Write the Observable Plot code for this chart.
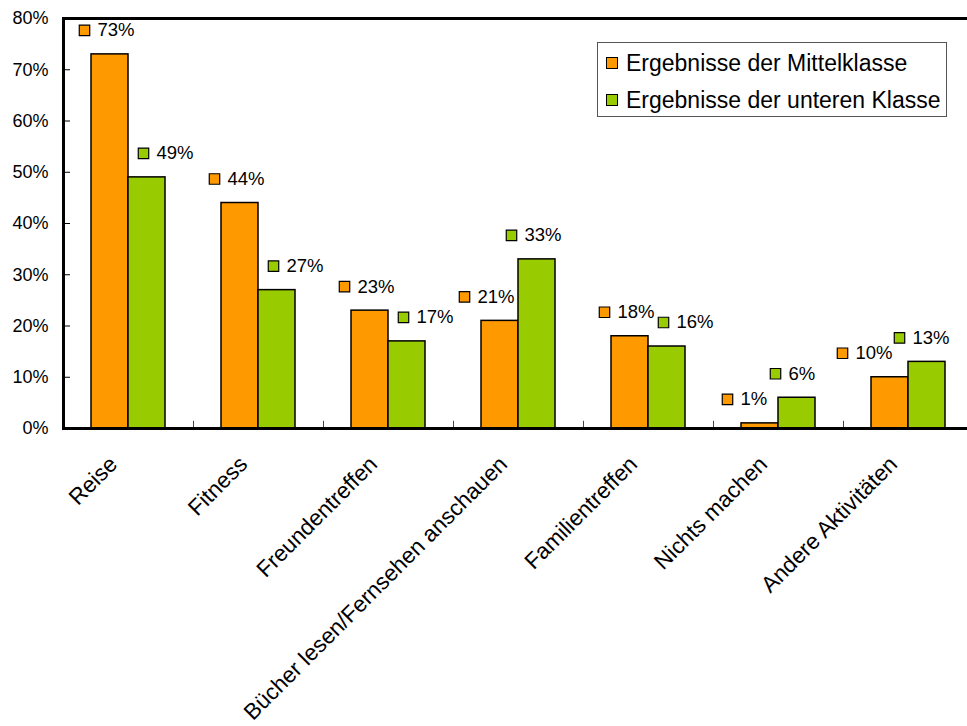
<!DOCTYPE html>
<html>
<head>
<meta charset="utf-8">
<script src="https://cdn.jsdelivr.net/npm/d3@7"></script>
<script src="https://cdn.jsdelivr.net/npm/@observablehq/plot@0.6"></script>
<style>
  html, body { margin: 0; padding: 0; background: #fff; overflow: hidden; }
  #wrap { position: relative; width: 967px; height: 726px; overflow: hidden; font-family: "Liberation Sans", Arial, sans-serif; }
  #legend { position: absolute; left: 597px; top: 42px; width: 350px; height: 75px; border: 1px solid #555; background: #fff; box-sizing: border-box; }
  .row { position: absolute; left: 8px; height: 26px; display: flex; align-items: center; font-size: 23px; color: #000; white-space: nowrap; }
  .sw { width: 10px; height: 10px; border: 1px solid #000; margin-right: 8px; }
</style>
</head>
<body>
<div id="wrap"></div>
<script>
const categories = ["Reise", "Fitness", "Freundentreffen", "Bücher lesen/Fernsehen anschauen", "Familientreffen", "Nichts machen", "Andere Aktivitäten"];
const mittelklasse = [73, 44, 23, 21, 18, 1, 10];
const untereKlasse = [49, 27, 17, 33, 16, 6, 13];
const seriesNames = ["Ergebnisse der Mittelklasse", "Ergebnisse der unteren Klasse"];
const seriesColors = ["#FF9900", "#99CC00"];
const yTicks = [0, 10, 20, 30, 40, 50, 60, 70, 80];

// label nudges (px) applied in the reference to avoid overlaps: [Mittelklasse, untere Klasse]
const labelNudge = {
  "Bücher lesen/Fernsehen anschauen": [-10, -22],
  "Nichts machen": [-7, -18],
  "Andere Aktivitäten": [-22, -24]
};

const rows = categories.flatMap((c, i) => [
  {cat: c, series: seriesNames[0], value: mittelklasse[i], s: 0},
  {cat: c, series: seriesNames[1], value: untereKlasse[i], s: 1}
]);
const s0 = rows.filter(d => d.s === 0);
const s1 = rows.filter(d => d.s === 1);

const font = "Liberation Sans, Arial, sans-serif";
const baseSquareDx = [-44, 15];

function labelMarks(d) {
  const nudge = (labelNudge[d.cat] || [0, 0])[d.s];
  const sq = baseSquareDx[d.s] + nudge;
  return [
    Plot.dot([d], {x: "cat", y: "value", symbol: "square", r: 5.9, fill: "series", stroke: "black", strokeWidth: 1.2, dx: sq, dy: -24}),
    Plot.text([d], {x: "cat", y: "value", text: v => v.value + "%", textAnchor: "start", dx: sq + 13, dy: -24, fontSize: 18.5, fill: "black"})
  ];
}

const chart = Plot.plot({
  width: 967,
  height: 726,
  marginLeft: 63,
  marginRight: 0,
  marginTop: 18,
  marginBottom: 298,
  style: {fontFamily: font, background: "white", color: "black", overflow: "hidden"},
  x: {domain: categories, padding: 0, range: [63, 973], label: null},
  y: {domain: [0, 80], label: null},
  color: {domain: seriesNames, range: seriesColors},
  marks: [
    Plot.axisY({ticks: yTicks, tickFormat: d => d + "%", tickSize: -7, tickPadding: 22, fontSize: 18, stroke: "black", label: null}),
    Plot.axisX({tickRotate: -45, tickSize: 0, tickPadding: 32, dx: -15, fontSize: 22.5, label: null}),
    Plot.ruleX(categories, {x: d => d, y1: 0, y2: 1.4, dx: 65, stroke: "#444", strokeWidth: 1}),
    Plot.barY(s0, {x: "cat", y: "value", fill: "series", stroke: "black", strokeWidth: 1.5, insetLeft: 28, insetRight: 65}),
    Plot.barY(s1, {x: "cat", y: "value", fill: "series", stroke: "black", strokeWidth: 1.5, insetLeft: 65, insetRight: 28}),
    ...rows.flatMap(labelMarks),
    Plot.frame({stroke: "black", strokeWidth: 3, insetRight: -12})
  ]
});

const wrap = document.getElementById("wrap");
wrap.appendChild(chart);

const color = chart.scale("color");
const legend = document.createElement("div");
legend.id = "legend";
seriesNames.forEach((name, i) => {
  const row = document.createElement("div");
  row.className = "row";
  row.style.top = (7 + i * 37) + "px";
  const sw = document.createElement("span");
  sw.className = "sw";
  sw.style.background = color.apply(name);
  const t = document.createElement("span");
  t.textContent = name;
  row.appendChild(sw);
  row.appendChild(t);
  legend.appendChild(row);
});
wrap.appendChild(legend);
</script>
</body>
</html>
